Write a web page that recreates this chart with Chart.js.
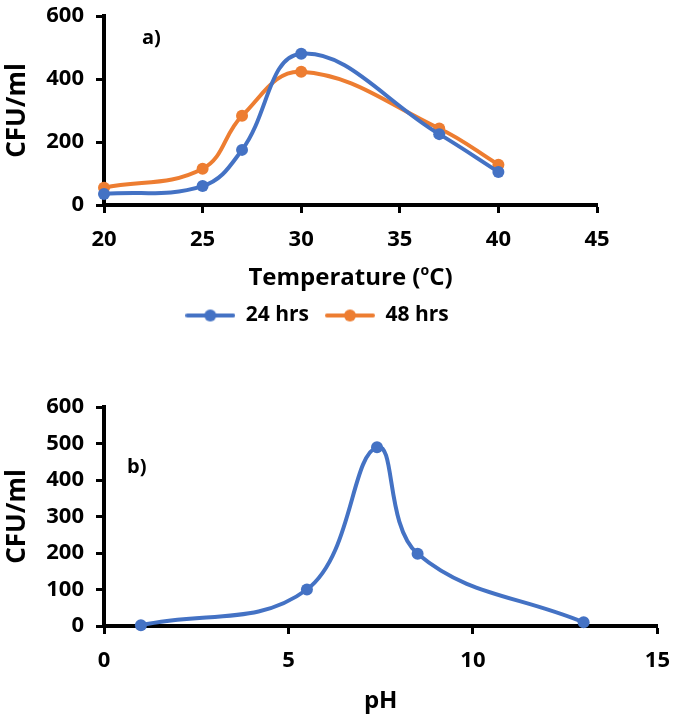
<!DOCTYPE html>
<html>
<head>
<meta charset="utf-8">
<script src="https://cdn.jsdelivr.net/npm/chart.js@4.4.1/dist/chart.umd.min.js"></script>
<style>
  html, body { margin: 0; padding: 0; background: #fff; }
  #wrap { position: relative; width: 684px; height: 718px; }
  #tempChart { position: absolute; left: 0; top: 0; }
  #phChart { position: absolute; left: 0; top: 340px; }
</style>
</head>
<body>
<div id="wrap">
  <canvas id="tempChart" width="684" height="336"></canvas>
  <canvas id="phChart" width="684" height="378"></canvas>
</div>
<script>
// a) temperature
const tempX = [20, 25, 27, 30, 37, 40];
const cfu24 = [35, 60, 175, 480, 225, 105];
const cfu48 = [55, 115, 283, 423, 243, 128];
const tempTicks = [20, 25, 30, 35, 40, 45];

// b) pH
const phX = [1, 5.5, 7.4, 8.5, 13];
const phCfu = [2, 100, 490, 198, 10];
const phTicks = [0, 5, 10, 15];

const BLUE = '#4472C4';
const ORANGE = '#ED7D31';
const FONT = "'Open Sans', 'DejaVu Sans', sans-serif";

Chart.defaults.font.family = FONT;
Chart.defaults.color = '#000';

function pairs(xs, ys) {
    return xs.map((x, i) => ({ x, y: ys[i] }));
}

function legendIcon(color) {
    const c = document.createElement('canvas');
    c.width = 50; c.height = 14;
    const g = c.getContext('2d');
    g.strokeStyle = color;
    g.lineWidth = 4;
    g.lineCap = 'round';
    g.beginPath(); g.moveTo(2, 7); g.lineTo(48, 7); g.stroke();
    g.fillStyle = color;
    g.beginPath(); g.arc(25, 7, 6, 0, Math.PI * 2); g.fill();
    return c;
}

function lineSet(label, data, color) {
    return {
        label,
        data,
        borderColor: color,
        backgroundColor: color,
        borderWidth: 4,
        pointRadius: 6,
        pointBorderWidth: 0,
        tension: 0.4,
        fill: false,
        clip: false
    };
}

function yAxis(max, step, width) {
    return {
        type: 'linear',
        min: 0, max,
        afterFit: s => {
            s.width = width;
            // keep label overflow from pushing the plot down
            s.paddingTop = 10;
            s.paddingBottom = 0;
        },
        ticks: { stepSize: step, padding: 12, font: { size: 22, weight: 'bold' } },
        grid: { drawOnChartArea: false, drawTicks: true, tickLength: 8, tickWidth: 3, tickColor: '#000' },
        border: { color: '#000', width: 4 },
        title: { display: true, text: 'CFU/ml', font: { size: 26, weight: 'bold' }, padding: { top: 2, bottom: 0 } }
    };
}

function xAxis(min, max, step, height, ticks) {
    return {
        type: 'linear',
        min, max,
        afterFit: s => { s.height = height; },
        afterBuildTicks: s => { s.ticks = ticks.map(v => ({ value: v })); },
        ticks: { padding: 14, font: { size: 22, weight: 'bold' } },
        grid: { drawOnChartArea: false, drawTicks: true, tickLength: 8, tickWidth: 3, tickColor: '#000' },
        border: { color: '#000', width: 4 }
    };
}

// panel letter + superscript axis title
const panelText = {
    id: 'panelText',
    afterDraw(chart, args, opts) {
        const ctx = chart.ctx;
        const xs = chart.scales.x;
        ctx.save();
        ctx.fillStyle = '#000';
        ctx.textBaseline = 'middle';
        ctx.font = 'bold 20px ' + FONT;
        ctx.fillText(opts.letter, opts.lx, opts.ly);
        if (opts.tempTitle) {
            const y = xs.bottom - 11;
            const big = 'bold 24px ' + FONT;
            const small = 'bold 14px ' + FONT;
            ctx.font = big;
            const a = 'Temperature (';
            const c = 'C)';
            const wa = ctx.measureText(a).width;
            const wc = ctx.measureText(c).width;
            ctx.font = small;
            const wo = ctx.measureText('o').width;
            let x = (chart.chartArea.left + chart.chartArea.right) / 2 - (wa + wo + wc) / 2;
            ctx.font = big;
            ctx.fillText(a, x, y);
            x += wa;
            ctx.font = small;
            ctx.fillText('o', x, y - 7);
            x += wo;
            ctx.font = big;
            ctx.fillText(c, x, y);
        }
        ctx.restore();
    }
};

new Chart(document.getElementById('tempChart').getContext('2d'), {
    type: 'line',
    data: {
        datasets: [
            lineSet('24 hrs', pairs(tempX, cfu24), BLUE),
            lineSet('48 hrs', pairs(tempX, cfu48), ORANGE)
        ]
    },
    options: {
        responsive: false,
        animation: false,
        layout: { padding: { top: 16, right: 50, left: 0, bottom: 0 } },
        scales: {
            x: xAxis(20, 45, 5, 84, tempTicks),
            y: yAxis(600, 200, 104),
            spacer: {
                type: 'linear', position: 'right', display: true,
                afterFit: s => { s.width = 37; },
                ticks: { display: false },
                grid: { display: false },
                border: { display: false }
            }
        },
        plugins: {
            legend: {
                position: 'bottom',
                labels: {
                    usePointStyle: true,
                    pointStyleWidth: 50,
                    padding: 16,
                    font: { size: 21, weight: 'bold' },
                    generateLabels: (chart) =>
                        Chart.defaults.plugins.legend.labels.generateLabels(chart).map((l, i) => ({
                            ...l,
                            pointStyle: legendIcon(i === 0 ? BLUE : ORANGE)
                        }))
                }
            },
            tooltip: { enabled: false },
            panelText: { letter: 'a)', lx: 142, ly: 38, tempTitle: true }
        }
    },
    plugins: [panelText]
});

new Chart(document.getElementById('phChart').getContext('2d'), {
    type: 'line',
    data: {
        datasets: [lineSet('24 hrs', pairs(phX, phCfu), BLUE)]
    },
    options: {
        responsive: false,
        animation: false,
        layout: { padding: { top: 67, right: 12, left: 0, bottom: 0 } },
        scales: {
            x: Object.assign(xAxis(0, 15, 5, 92, phTicks), {
                title: { display: true, text: 'pH', font: { size: 24, weight: 'bold' }, padding: { top: 0, bottom: 2 } }
            }),
            y: yAxis(600, 100, 104)
        },
        plugins: {
            legend: { display: false },
            tooltip: { enabled: false },
            panelText: { letter: 'b)', lx: 127, ly: 127, tempTitle: false }
        }
    },
    plugins: [panelText]
});
</script>
</body>
</html>
